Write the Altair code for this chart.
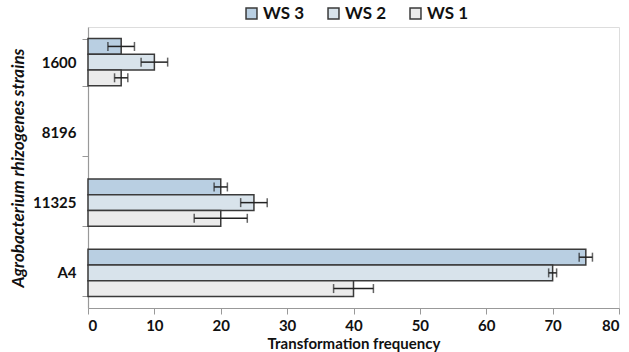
import altair as alt
import pandas as pd

strains = ["1600", "8196", "11325", "A4"]
series = ["WS 3", "WS 2", "WS 1"]

# values per series, in strain order (8196 has no bars)
ws3 = [5, None, 20, 75]
ws2 = [10, None, 25, 70]
ws1 = [5, None, 20, 40]
ws3_err = [2, None, 1, 1]
ws2_err = [2, None, 2, 0.6]
ws1_err = [1, None, 4, 3]

rows = []
for s, vals, errs in [("WS 3", ws3, ws3_err), ("WS 2", ws2, ws2_err), ("WS 1", ws1, ws1_err)]:
    for st, v, e in zip(strains, vals, errs):
        if v is None:
            continue
        rows.append({"strain": st, "series": s, "value": v, "lo": v - e, "hi": v + e})
df = pd.DataFrame(rows)

FONT = "Lato"
colors = ["#b9cfe2", "#d8e3eb", "#ebebeb"]

y_enc = alt.Y("strain:N", sort=strains,
              scale=alt.Scale(domain=strains, paddingInner=0.33, paddingOuter=0.165),
              axis=alt.Axis(title="Agrobacterium rhizogenes strains", titleFontStyle="italic",
                            titleFont=FONT, titleFontSize=17, titleFontWeight="bold",
                            titlePadding=5, labelFont=FONT, labelFontSize=15,
                            labelFontWeight="bold", labelColor="#111", labelPadding=6,
                            tickBand="extent", tickSize=6, tickColor="#999",
                            domainColor="#999", domainWidth=1.2, titleColor="#111"))
yoff = alt.YOffset("series:N", sort=series, scale=alt.Scale(domain=series, paddingInner=0, paddingOuter=0))

x_enc = alt.X("value:Q", scale=alt.Scale(domain=[0, 80], nice=False),
              axis=alt.Axis(title="Transformation frequency", values=list(range(0, 81, 10)),
                            grid=False, titleFont=FONT, titleFontSize=15, titleFontWeight="bold",
                            titleColor="#111", titlePadding=3,
                            labelFont=FONT, labelFontSize=15, labelFontWeight="bold",
                            labelColor="#111", tickSize=6, tickColor="#999",
                            domainColor="#999", domainWidth=1.2, labelPadding=4))

bars = alt.Chart(df).mark_bar(stroke="#3a3a3a", strokeWidth=1.5).encode(
    x=x_enc,
    y=y_enc,
    yOffset=yoff,
    fill=alt.Fill("series:N", sort=series,
                  scale=alt.Scale(domain=series, range=colors),
                  legend=alt.Legend(title=None, orient="none", direction="horizontal",
                                    legendX=155, legendY=-22, symbolType="square",
                                    symbolSize=120, symbolStrokeColor="#3a3a3a",
                                    symbolStrokeWidth=1.5, labelFont=FONT, labelFontSize=17,
                                    labelFontWeight="bold", labelColor="#111",
                                    columnPadding=20, labelOffset=3)),
)

rules = alt.Chart(df).mark_rule(color="#222", strokeWidth=1.5).encode(
    x="lo:Q", x2="hi:Q", y=alt.Y("strain:N", sort=strains), yOffset=yoff)
cap_lo = alt.Chart(df).mark_tick(color="#222", thickness=1.5, size=9).encode(
    x="lo:Q", y=alt.Y("strain:N", sort=strains), yOffset=yoff)
cap_hi = alt.Chart(df).mark_tick(color="#222", thickness=1.5, size=9).encode(
    x="hi:Q", y=alt.Y("strain:N", sort=strains), yOffset=yoff)

chart = alt.layer(bars, rules, cap_lo, cap_hi).properties(
    width=531, height=281,
    autosize=alt.AutoSizeParams(type="none"),
    padding={"left": 88, "top": 27, "right": 10, "bottom": 44},
).configure_view(stroke=None).configure(background="white")

chart.save("out.html", embed_options={"renderer": "svg", "actions": False})
